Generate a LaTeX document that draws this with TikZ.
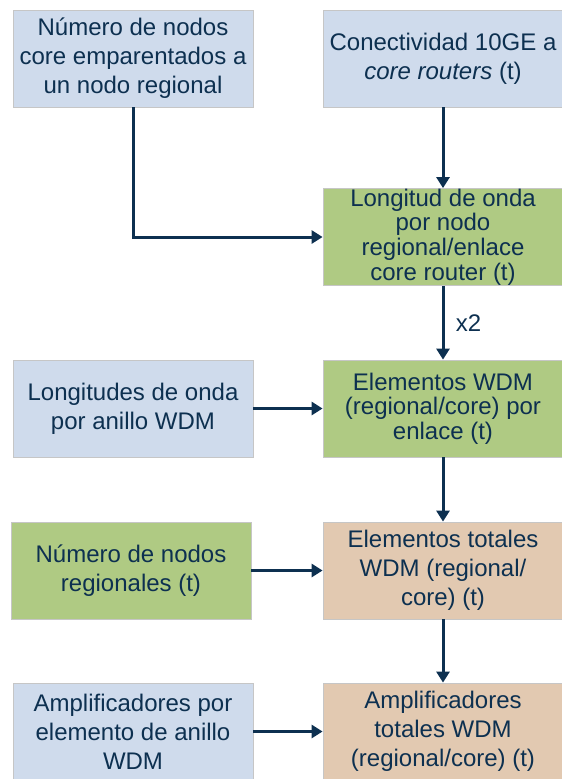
\documentclass[tikz,border=0pt]{standalone}
\usepackage{fontspec}
\setmainfont{Liberation Sans}
\usetikzlibrary{arrows.meta}

\definecolor{navy}{HTML}{0D3050}
\definecolor{paleblue}{HTML}{CFDBEC}
\definecolor{leafgreen}{HTML}{AFCA83}
\definecolor{sand}{HTML}{E2C9B1}

\begin{document}
\begin{tikzpicture}[x=1pt,y=-1pt,
    box/.style={draw=gray!45,line width=0.8pt,minimum width=240pt,minimum height=97pt,
        inner sep=0pt,align=center,text=navy,font=\fontsize{24}{29}\selectfont},
    bluebox/.style={box,fill=paleblue},
    greenbox/.style={box,fill=leafgreen},
    tanbox/.style={box,fill=sand},
    tight/.style={font=\fontsize{24}{24.7}\selectfont},
    flow/.style={draw=navy,line width=3pt,-{Triangle[length=11pt,width=13pt]}}]

\useasboundingbox (0,0) rectangle (562,779);

% left column
\node[bluebox] (numcore) at (133,58.5) {N\'umero de nodos\\core emparentados a\\un nodo regional};
\node[bluebox] (longanillo) at (133,408.5) {Longitudes de onda\\por anillo WDM};
\node[greenbox] (numreg) at (131,570.5) {N\'umero de nodos\\regionales (t)};
\node[bluebox] (amplif) at (133,731.5) {Amplificadores por\\elemento de anillo\\WDM};

% right column
\node[bluebox] (conect) at (443,58.5) {Conectividad 10GE a\\\textit{core routers} (t)};
\node[greenbox,tight] (longonda) at (443,237) {Longitud de onda\\por nodo\\regional/enlace\\core router (t)};
\node[greenbox,tight] (elemwdm) at (443,408.5) {Elementos WDM\\(regional/core) por\\enlace (t)};
\node[tanbox] (elemtot) at (443,570.5) {Elementos totales\\WDM (regional/\\core) (t)};
\node[tanbox] (amptot) at (443,731.5) {Amplificadores\\totales WDM\\(regional/core) (t)};

\draw[flow] (numcore.south) |- (longonda.west);
\draw[flow] (conect.south) -- (longonda.north);
\draw[flow] (longonda.south) -- node[right=8pt,text=navy,font=\fontsize{24}{28}\selectfont] (factor) {x2} (elemwdm.north);
\draw[flow] (longanillo.east) -- (elemwdm.west);
\draw[flow] (elemwdm.south) -- (elemtot.north);
\draw[flow] (numreg.east) -- (elemtot.west);
\draw[flow] (elemtot.south) -- (amptot.north);
\draw[flow] (amplif.east) -- (amptot.west);

\end{tikzpicture}
\end{document}
